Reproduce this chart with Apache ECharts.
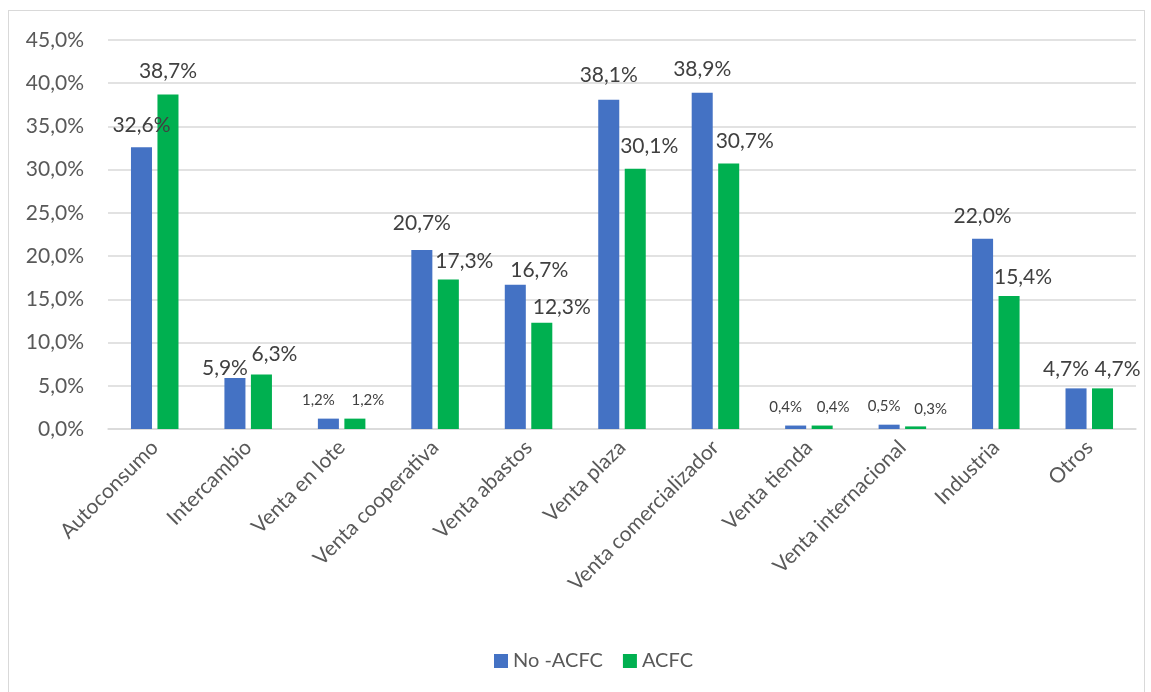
<!DOCTYPE html>
<html>
<head>
<meta charset="utf-8">
<script src="https://cdn.jsdelivr.net/npm/echarts@6/dist/echarts.min.js"></script>
<style>
html,body{margin:0;padding:0;background:#fff;}
#frame{position:absolute;left:8px;top:10px;width:1137px;height:700px;border:1.5px solid #d9d9d9;box-sizing:border-box;}
#chart{position:absolute;left:0;top:0;width:1151px;height:692px;}
</style>
</head>
<body>
<div id="frame"></div>
<div id="chart"></div>
<script>
const categories = ["Autoconsumo","Intercambio","Venta en lote","Venta cooperativa","Venta abastos","Venta plaza","Venta comercializador","Venta tienda","Venta internacional","Industria","Otros"];
const noAcfc = [32.6, 5.9, 1.2, 20.7, 16.7, 38.1, 38.9, 0.4, 0.5, 22.0, 4.7];
const acfc   = [38.7, 6.3, 1.2, 17.3, 12.3, 30.1, 30.7, 0.4, 0.3, 15.4, 4.7];
const seriesNames = ["No -ACFC", "ACFC"];

// label nudges (relative offsets of the data labels, as placed in the reference)
const blueNudge  = [[0,0],[-10,12],[-10,0],[0,-5],[24,7],[0,-3],[0,-2],[-10,0],[-5,0],[0,-1],[-10,2]];
const greenNudge = [[0,-2],[13,1],[13,0],[16,3],[20,6],[14,-1],[16,-1],[11,0],[15,1],[14,3],[15,2]];

const fmt = v => v.toFixed(1).replace('.', ',') + '%';
const font = 'Lato, "Open Sans", sans-serif';

function build(values, nudge){
  return values.map((v,i) => ({value: v, label: {offset: nudge[i]}}));
}
const labelCfg = {
  show: true, position: 'top', distance: 11,
  color: '#404040', fontFamily: font, fontSize: 21,
  formatter: p => p.value < 2 ? '{s|' + fmt(p.value) + '}' : fmt(p.value),
  rich: { s: { fontSize: 15, color: '#404040', fontFamily: font } }
};

const chart = echarts.init(document.getElementById('chart'), null, {renderer: 'canvas'});
chart.setOption({
  animation: false,
  backgroundColor: 'transparent',
  grid: {left: 108, right: 15, top: 40, bottom: 263, containLabel: false},
  legend: {
    left: 489, top: 646, itemWidth: 14, itemHeight: 14, itemGap: 20,
    icon: 'rect',
    textStyle: {color: '#595959', fontFamily: font, fontSize: 20},
    data: seriesNames
  },
  xAxis: {
    type: 'category', data: categories,
    axisLine: {lineStyle: {color: '#d9d9d9', width: 1.5}},
    axisTick: {show: false},
    axisLabel: {rotate: 45, interval: 0, margin: 15, color: '#595959', fontFamily: font, fontSize: 21}
  },
  yAxis: {
    type: 'value', min: 0, max: 45, interval: 5,
    axisLine: {show: false}, axisTick: {show: false},
    splitLine: {lineStyle: {color: '#d9d9d9', width: 1.5}},
    axisLabel: {margin: 24, color: '#595959', fontFamily: font, fontSize: 21, formatter: v => fmt(v)}
  },
  series: [
    {name: seriesNames[0], type: 'bar', data: build(noAcfc, blueNudge), barWidth: '22.5%', barGap: '26%',
     itemStyle: {color: '#4472C4'}, label: labelCfg},
    {name: seriesNames[1], type: 'bar', data: build(acfc, greenNudge), barWidth: '22.5%', barGap: '26%',
     itemStyle: {color: '#00B050'}, label: labelCfg}
  ]
});
</script>
</body>
</html>
